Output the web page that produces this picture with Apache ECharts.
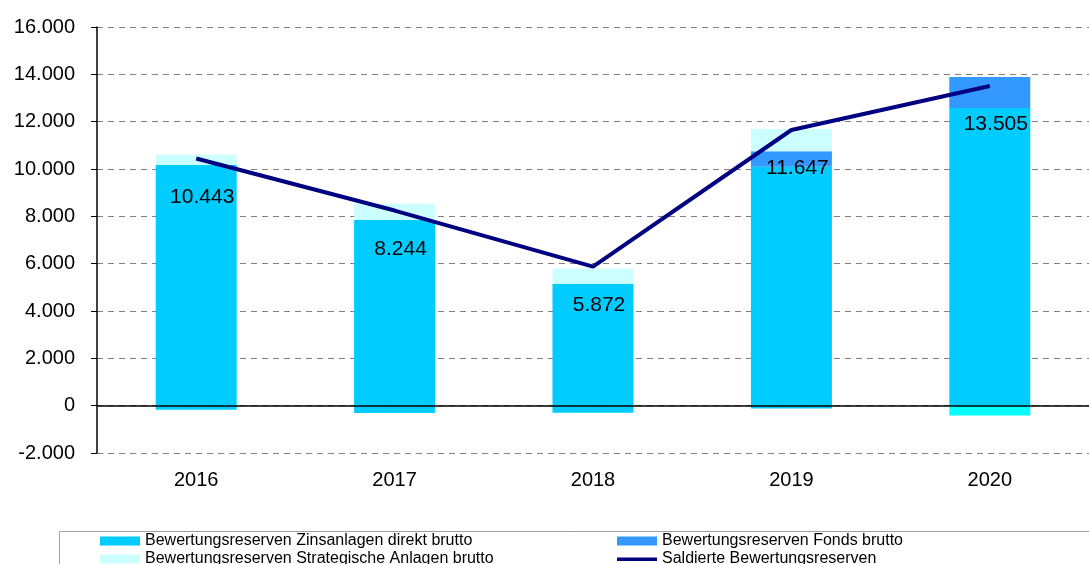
<!DOCTYPE html>
<html>
<head>
<meta charset="utf-8">
<script src="https://cdn.jsdelivr.net/npm/echarts@6/dist/echarts.min.js"></script>
<style>
  html, body { margin: 0; padding: 0; background: #fff; }
  #chart { width: 1089px; height: 564px; }
</style>
</head>
<body>
<div id="chart"></div>
<script>
const years = ["2016", "2017", "2018", "2019", "2020"];
const zinsanlagen = [10170, 7850, 5150, 10100, 12580];
const fonds = [0, 0, 0, 650, 1310];
const strategisch = [430, 680, 650, 940, 0];
const negativ = [-170, -310, -300, -120, -420];
const saldiert = [10443, 8244, 5872, 11647, 13505];

const fmt = (v) => String(v).replace(/\B(?=(\d{3})+(?!\d))/g, ".");
const font = "'Liberation Sans', Arial, sans-serif";

const legendBase = {
  top: 533, orient: "vertical", itemGap: 2, height: 80,
  itemWidth: 40, itemHeight: 9, padding: 0, icon: "rect",
  textStyle: { fontSize: 16, color: "#000", fontFamily: font },
};

const chart = echarts.init(document.getElementById("chart"));
chart.setOption({
  animation: false,
  backgroundColor: "#fff",
  textStyle: { fontFamily: font },
  grid: { left: 97, top: 27, bottom: 111, width: 1003 },
  legend: [
    Object.assign({}, legendBase, {
      left: 100,
      data: ["Bewertungsreserven Zinsanlagen direkt brutto", "Bewertungsreserven Strategische Anlagen brutto"],
    }),
    Object.assign({}, legendBase, {
      left: 617,
      data: [
        "Bewertungsreserven Fonds brutto",
        { name: "Saldierte Bewertungsreserven", icon: "path://M0,0M40,9M0,3h40v3.5h-40z" },
      ],
    }),
  ],
  graphic: [
    {
      type: "rect", left: 57, top: 529,
      shape: { width: 1100, height: 60 },
      style: { fill: "none", stroke: "#a0a0a0", lineWidth: 1 },
    },
  ],
  xAxis: {
    type: "category",
    data: years,
    axisLine: { show: false, onZero: false },
    axisTick: { show: false },
    axisLabel: { fontSize: 20, color: "#000", margin: 17 },
  },
  yAxis: {
    type: "value",
    min: -2000, max: 16000, interval: 2000,
    axisLine: { show: true, lineStyle: { color: "#000", width: 1.5 } },
    axisTick: { show: true, length: 6, lineStyle: { color: "#000" } },
    axisLabel: { fontSize: 20, color: "#000", margin: 22, formatter: fmt },
    splitLine: { lineStyle: { color: "#808080", type: [6, 5], width: 1 } },
  },
  series: [
    {
      name: "Bewertungsreserven Zinsanlagen direkt brutto",
      type: "bar", stack: "a", barWidth: 81,
      itemStyle: { color: "#00CCFF" },
      data: zinsanlagen,
      markLine: {
        silent: true, symbol: "none", label: { show: false },
        lineStyle: { color: "#000", type: "solid", width: 1.5 },
        data: [{ yAxis: 0 }],
        z: 5,
      },
    },
    {
      name: "Bewertungsreserven Fonds brutto",
      type: "bar", stack: "a", barWidth: 81,
      itemStyle: { color: "#3399FF" },
      data: fonds,
    },
    {
      name: "Bewertungsreserven Strategische Anlagen brutto",
      type: "bar", stack: "a", barWidth: 81,
      itemStyle: { color: "#CCFFFF" },
      data: strategisch,
    },
    {
      name: "Bewertungsreserven Sonstige",
      type: "bar", stack: "a", barWidth: 81,
      itemStyle: { color: (p) => (p.dataIndex === 4 ? "#00FFFF" : "#00CCFF") },
      data: negativ,
    },
    {
      name: "Saldierte Bewertungsreserven",
      type: "line", z: 10,
      symbol: "circle", symbolSize: 0, showSymbol: true,
      lineStyle: { color: "#000080", width: 4 },
      itemStyle: { color: "#000080" },
      label: {
        show: true, position: "bottom", distance: 28, offset: [6, 0],
        fontSize: 21, color: "#000", fontFamily: font,
        formatter: (p) => fmt(p.value),
      },
      data: saldiert,
    },
  ],
});
</script>
</body>
</html>
